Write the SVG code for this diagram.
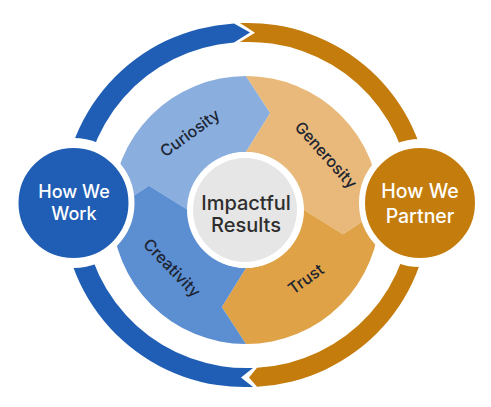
<svg xmlns="http://www.w3.org/2000/svg" width="491" height="407" viewBox="0 0 491 407">
  <style>
    .seg-label { font-family: Inter, "Noto Sans", sans-serif; font-size: 16px; font-weight: 500; fill: #1c2431; text-anchor: middle; }
    .node-label { font-family: Inter, "Noto Sans", sans-serif; font-weight: 500; fill: #ffffff; text-anchor: middle; }
    .center-label { font-family: Inter, "Noto Sans", sans-serif; font-size: 20px; font-weight: 500; fill: #2e2e2e; text-anchor: middle; }
    .halo { fill: #ffffff; }
  </style>
  <rect width="491" height="407" fill="#ffffff"/>

  <g id="connectors">
    <path id="ring-blue" fill="#1f5eb4" d="M253 386.9 A182 182 0 0 1 234 23.4 L250 32.5 L234 42.5 A163 163 0 0 0 253 367.9 L241 377.4 Z"/>
    <path id="ring-orange" fill="#c47c0c" d="M240 23.1 A182 182 0 0 1 257 386.7 L249 377.5 L257 367.7 A163 163 0 0 0 240 42.1 L255 32.7 Z"/>
  </g>

  <g id="gaps">
    <circle class="halo" cx="73.5" cy="203" r="65"/>
    <circle class="halo" cx="420" cy="203" r="64"/>
  </g>

  <g id="curiosity">
    <path fill="#8aaedd" d="M112 210 A134 134 0 0 1 246 76 L270.19 112.97 L246 152 A58 58 0 0 0 188 210 L148.97 185.81 Z"/>
    <text class="seg-label" transform="translate(190 133) rotate(-36)" dy="0.35em">Curiosity</text>
  </g>
  <g id="generosity">
    <path fill="#e8b97a" d="M246 76 A134 134 0 0 1 380 210 L343.03 234.19 L304 210 A58 58 0 0 0 246 152 L270.19 112.97 Z"/>
    <text class="seg-label" transform="translate(326 155) rotate(48)" dy="0.35em">Generosity</text>
  </g>
  <g id="trust">
    <path fill="#e0a246" d="M380 210 A134 134 0 0 1 246 344 L221.81 307.03 L246 268 A58 58 0 0 0 304 210 L343.03 234.19 Z"/>
    <text class="seg-label" transform="translate(306 279) rotate(-36)" dy="0.35em">Trust</text>
  </g>
  <g id="creativity">
    <path fill="#5c8ed2" d="M246 344 A134 134 0 0 1 112 210 L148.97 185.81 L188 210 A58 58 0 0 0 246 268 L221.81 307.03 Z"/>
    <text class="seg-label" transform="translate(172 268) rotate(46)" dy="0.35em">Creativity</text>
  </g>

  <g id="impactful-results">
    <circle cx="245" cy="210" r="58" fill="#ffffff"/>
    <circle cx="245" cy="210" r="52" fill="#e6e6e6"/>
    <text class="center-label" x="246" y="210">Impactful</text>
    <text class="center-label" x="246" y="232">Results</text>
  </g>

  <g id="how-we-work">
    <circle cx="73.5" cy="203" r="58" fill="#1f5eb4" stroke="#ffffff" stroke-width="6"/>
    <text class="node-label" x="74" y="198" font-size="18">How We</text>
    <text class="node-label" x="74" y="220" font-size="18">Work</text>
  </g>

  <g id="how-we-partner">
    <circle cx="420" cy="203" r="58" fill="#c47c0c" stroke="#ffffff" stroke-width="6"/>
    <text class="node-label" x="420" y="198" font-size="19.5">How We</text>
    <text class="node-label" x="420" y="223" font-size="19.5">Partner</text>
  </g>
</svg>
